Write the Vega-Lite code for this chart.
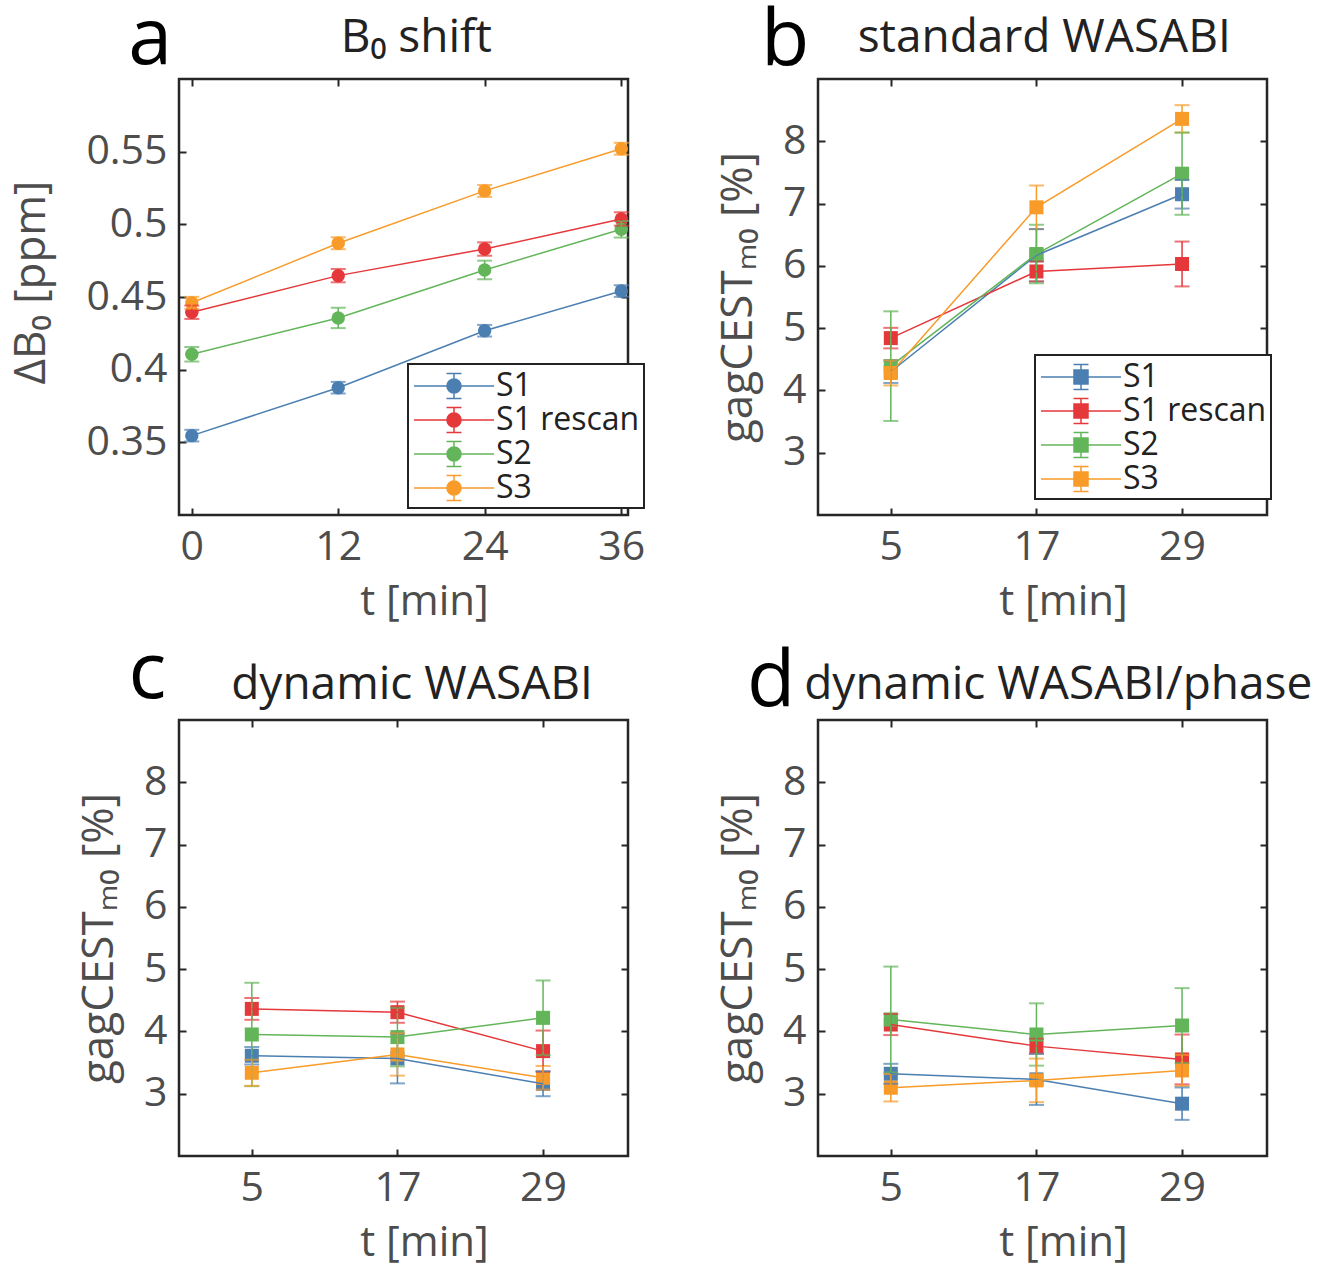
{
  "$schema": "https://vega.github.io/schema/vega-lite/v6.json",
  "background": "white",
  "padding": {"left": 8, "top": 0, "right": 5, "bottom": 5},
  "config": {
    "font": "Open Sans",
    "view": {"stroke": "#262626", "strokeWidth": 2.5},
    "axis": {
      "labelFont": "Open Sans", "labelFontSize": 41, "labelColor": "#4d4d4d",
      "titleFont": "Open Sans", "titleColor": "#4d4d4d", "titleFontWeight": "normal",
      "domain": false, "grid": false, "tickColor": "#262626", "tickWidth": 2, "tickSize": -7, "labelPadding": 19
    },
    "axisX": {"titleFontSize": 42, "titlePadding": 14, "titleX": 245},
    "axisY": {"titleFontSize": 44, "titlePadding": 22},
    "legend": {"strokeWidth": 2},
    "text": {"font": "Open Sans"}
  },
  "datasets": {
    "a": [
      {"s": "S1", "t": 0, "v": 0.3546, "e": 0.004},
      {"s": "S1", "t": 12, "v": 0.3876, "e": 0.004},
      {"s": "S1", "t": 24, "v": 0.4268, "e": 0.004},
      {"s": "S1", "t": 35.2, "v": 0.4541, "e": 0.004},
      {"s": "S1 rescan", "t": 0, "v": 0.4395, "e": 0.0046},
      {"s": "S1 rescan", "t": 12, "v": 0.4647, "e": 0.0046},
      {"s": "S1 rescan", "t": 24, "v": 0.483, "e": 0.0046},
      {"s": "S1 rescan", "t": 35.2, "v": 0.5037, "e": 0.0046},
      {"s": "S2", "t": 0, "v": 0.4106, "e": 0.005},
      {"s": "S2", "t": 12, "v": 0.4356, "e": 0.007},
      {"s": "S2", "t": 24, "v": 0.4686, "e": 0.0064},
      {"s": "S2", "t": 35.2, "v": 0.4966, "e": 0.0057},
      {"s": "S3", "t": 0, "v": 0.446, "e": 0.0041},
      {"s": "S3", "t": 12, "v": 0.487, "e": 0.0041},
      {"s": "S3", "t": 24, "v": 0.523, "e": 0.0041},
      {"s": "S3", "t": 35.2, "v": 0.552, "e": 0.0041}
    ],
    "b": [
      {"s": "S1", "t": 5, "v": 4.30, "e": 0.18},
      {"s": "S1", "t": 17, "v": 6.17, "e": 0.42},
      {"s": "S1", "t": 29, "v": 7.15, "e": 0.23},
      {"s": "S1 rescan", "t": 5, "v": 4.84, "e": 0.165},
      {"s": "S1 rescan", "t": 17, "v": 5.91, "e": 0.16},
      {"s": "S1 rescan", "t": 29, "v": 6.03, "e": 0.36},
      {"s": "S2", "t": 5, "v": 4.39, "e": 0.88},
      {"s": "S2", "t": 17, "v": 6.19, "e": 0.47},
      {"s": "S2", "t": 29, "v": 7.48, "e": 0.66},
      {"s": "S3", "t": 5, "v": 4.28, "e": 0.2},
      {"s": "S3", "t": 17, "v": 6.94, "e": 0.35},
      {"s": "S3", "t": 29, "v": 8.36, "e": 0.22}
    ],
    "c": [
      {"s": "S1", "t": 5, "v": 3.61, "e": 0.14},
      {"s": "S1", "t": 17, "v": 3.566, "e": 0.4},
      {"s": "S1", "t": 29, "v": 3.16, "e": 0.2},
      {"s": "S1 rescan", "t": 5, "v": 4.362, "e": 0.175},
      {"s": "S1 rescan", "t": 17, "v": 4.309, "e": 0.17},
      {"s": "S1 rescan", "t": 29, "v": 3.684, "e": 0.33},
      {"s": "S2", "t": 5, "v": 3.951, "e": 0.83},
      {"s": "S2", "t": 17, "v": 3.909, "e": 0.47},
      {"s": "S2", "t": 29, "v": 4.218, "e": 0.6},
      {"s": "S3", "t": 5, "v": 3.336, "e": 0.21},
      {"s": "S3", "t": 17, "v": 3.63, "e": 0.34},
      {"s": "S3", "t": 29, "v": 3.256, "e": 0.19}
    ],
    "d": [
      {"s": "S1", "t": 5, "v": 3.32, "e": 0.16},
      {"s": "S1", "t": 17, "v": 3.23, "e": 0.41},
      {"s": "S1", "t": 29, "v": 2.84, "e": 0.26},
      {"s": "S1 rescan", "t": 5, "v": 4.111, "e": 0.17},
      {"s": "S1 rescan", "t": 17, "v": 3.764, "e": 0.12},
      {"s": "S1 rescan", "t": 29, "v": 3.55, "e": 0.4},
      {"s": "S2", "t": 5, "v": 4.191, "e": 0.85},
      {"s": "S2", "t": 17, "v": 3.951, "e": 0.5},
      {"s": "S2", "t": 29, "v": 4.095, "e": 0.6},
      {"s": "S3", "t": 5, "v": 3.096, "e": 0.22},
      {"s": "S3", "t": 17, "v": 3.214, "e": 0.35},
      {"s": "S3", "t": 29, "v": 3.374, "e": 0.25}
    ]
  },
  "concat": [
    {
      "width": 449, "height": 436,
      "data": {"name": "a"},
      "layer": [
        {
          "mark": {"type": "point", "filled": true, "shape": "circle", "size": 180, "opacity": 1},
          "encoding": {
            "x": {"field": "t", "type": "quantitative", "scale": {"domain": [-1.05, 35.75], "nice": false, "zero": false},
                  "axis": {"orient": "bottom", "values": [0, 12, 24, 35.2], "labelExpr": "datum.value > 30 ? '36' : datum.label", "title": "t [min]"}},
            "y": {"field": "v", "type": "quantitative", "scale": {"domain": [0.3, 0.6], "nice": false, "zero": false},
                  "axis": {"orient": "left", "values": [0.35, 0.4, 0.45, 0.5, 0.55], "format": "~g", "title": "ΔB₀ [ppm]", "titlePadding": 32, "titleY": 203}},
            "color": {"field": "s", "type": "nominal",
                      "scale": {"domain": ["S1", "S1 rescan", "S2", "S3"], "range": ["#4b7fb1", "#e5383b", "#63b55a", "#f89b29"]},
                      "legend": {"orient": "none", "legendX": 229, "legendY": 285, "title": null,
                                 "symbolType": "M-2.353,0H-0.412M0.412,0H2.353M0,-0.735V-0.412M0,0.412V0.735M-0.44,-0.735H0.44M-0.44,0.735H0.44M0.412,0A0.412,0.412,0,1,1,-0.412,0A0.412,0.412,0,1,1,0.412,0Z",
                                 "symbolSize": 1156, "symbolStrokeWidth": 1.5, "symbolOffset": 24, "labelOffset": 24,
                                 "labelFont": "Open Sans", "labelFontSize": 32, "labelColor": "#222222", "labelLimit": 400,
                                 "strokeColor": "#222222", "fillColor": "white", "padding": 4, "rowPadding": 0}}
          }
        },
        {
          "mark": {"type": "errorbar", "ticks": {"size": 15}, "thickness": 2, "rule": {"strokeWidth": 1.5}},
          "encoding": {
            "x": {"field": "t", "type": "quantitative", "axis": null},
            "y": {"field": "v", "type": "quantitative", "axis": null},
            "yError": {"field": "e"},
            "color": {"field": "s", "type": "nominal"}
          }
        },
        {
          "mark": {"type": "line", "strokeWidth": 1.5},
          "encoding": {
            "x": {"field": "t", "type": "quantitative", "axis": null},
            "y": {"field": "v", "type": "quantitative", "axis": null},
            "color": {"field": "s", "type": "nominal"}
          }
        },
        {
          "mark": {"type": "point", "opacity": 0},
          "encoding": {
            "x": {"field": "t", "type": "quantitative", "axis": {"orient": "top", "values": [0, 12, 24, 35.2], "labels": false, "title": null}},
            "y": {"field": "v", "type": "quantitative", "axis": {"orient": "right", "values": [0.35, 0.4, 0.45, 0.5, 0.55], "labels": false, "title": null}}
          }
        },
        {
          "data": {"values": [{"label": "a"}]},
          "mark": {"type": "text", "fontSize": 79, "color": "black", "align": "center", "baseline": "alphabetic"},
          "encoding": {
            "text": {"field": "label"},
            "x": {"datum": -3.4, "type": "quantitative", "axis": null},
            "y": {"datum": 0.61, "type": "quantitative", "axis": null}
          }
        },
        {
          "data": {"values": [{"label": "B₀ shift"}]},
          "mark": {"type": "text", "fontSize": 46, "color": "#222222", "align": "center", "baseline": "alphabetic"},
          "encoding": {
            "text": {"field": "label"},
            "x": {"datum": 18.4, "type": "quantitative", "axis": null},
            "y": {"datum": 0.6186, "type": "quantitative", "axis": null}
          }
        }
      ],
      "resolve": {"axis": {"x": "independent", "y": "independent"}}
    },
    {
      "width": 449, "height": 436,
      "data": {"name": "b"},
      "layer": [
        {
          "mark": {"type": "point", "filled": true, "shape": "square", "size": 196, "opacity": 1},
          "encoding": {
            "x": {"field": "t", "type": "quantitative", "scale": {"domain": [-1, 36], "nice": false, "zero": false},
                  "axis": {"orient": "bottom", "values": [5, 17, 29], "title": "t [min]"}},
            "y": {"field": "v", "type": "quantitative", "scale": {"domain": [2, 9], "nice": false, "zero": false},
                  "axis": {"orient": "left", "values": [3, 4, 5, 6, 7, 8], "title": "gagCESTₘ₀ [%]"}},
            "color": {"field": "s", "type": "nominal",
                      "scale": {"domain": ["S1", "S1 rescan", "S2", "S3"], "range": ["#4b7fb1", "#e5383b", "#63b55a", "#f89b29"]},
                      "legend": {"orient": "none", "legendX": 217, "legendY": 276, "title": null,
                                 "symbolType": "M-2.353,0H-0.412M0.412,0H2.353M0,-0.735V-0.412M0,0.412V0.735M-0.44,-0.735H0.44M-0.44,0.735H0.44M-0.412,-0.412H0.412V0.412H-0.412Z",
                                 "symbolSize": 1156, "symbolStrokeWidth": 1.5, "symbolOffset": 24, "labelOffset": 24,
                                 "labelFont": "Open Sans", "labelFontSize": 32, "labelColor": "#222222", "labelLimit": 400,
                                 "strokeColor": "#222222", "fillColor": "white", "padding": 4, "rowPadding": 0}}
          }
        },
        {
          "mark": {"type": "errorbar", "ticks": {"size": 15}, "thickness": 2, "rule": {"strokeWidth": 1.5}},
          "encoding": {
            "x": {"field": "t", "type": "quantitative", "axis": null},
            "y": {"field": "v", "type": "quantitative", "axis": null},
            "yError": {"field": "e"},
            "color": {"field": "s", "type": "nominal"}
          }
        },
        {
          "mark": {"type": "line", "strokeWidth": 1.5},
          "encoding": {
            "x": {"field": "t", "type": "quantitative", "axis": null},
            "y": {"field": "v", "type": "quantitative", "axis": null},
            "color": {"field": "s", "type": "nominal"}
          }
        },
        {
          "mark": {"type": "point", "opacity": 0},
          "encoding": {
            "x": {"field": "t", "type": "quantitative", "axis": {"orient": "top", "values": [5, 17, 29], "labels": false, "title": null}},
            "y": {"field": "v", "type": "quantitative", "axis": {"orient": "right", "values": [3, 4, 5, 6, 7, 8], "labels": false, "title": null}}
          }
        },
        {
          "data": {"values": [{"label": "b"}]},
          "mark": {"type": "text", "fontSize": 79, "color": "black", "align": "center", "baseline": "alphabetic"},
          "encoding": {
            "text": {"field": "label"},
            "x": {"datum": -3.7, "type": "quantitative", "axis": null},
            "y": {"datum": 9.22, "type": "quantitative", "axis": null}
          }
        },
        {
          "data": {"values": [{"label": "standard WASABI"}]},
          "mark": {"type": "text", "fontSize": 46, "color": "#222222", "align": "center", "baseline": "alphabetic"},
          "encoding": {
            "text": {"field": "label"},
            "x": {"datum": 17.64, "type": "quantitative", "axis": null},
            "y": {"datum": 9.43, "type": "quantitative", "axis": null}
          }
        }
      ],
      "resolve": {"axis": {"x": "independent", "y": "independent"}}
    },
    {
      "width": 449, "height": 436,
      "data": {"name": "c"},
      "layer": [
        {
          "mark": {"type": "point", "filled": true, "shape": "square", "size": 196, "opacity": 1},
          "encoding": {
            "x": {"field": "t", "type": "quantitative", "scale": {"domain": [-1, 36], "nice": false, "zero": false},
                  "axis": {"orient": "bottom", "values": [5, 17, 29], "title": "t [min]"}},
            "y": {"field": "v", "type": "quantitative", "scale": {"domain": [2, 9], "nice": false, "zero": false},
                  "axis": {"orient": "left", "values": [3, 4, 5, 6, 7, 8], "title": "gagCESTₘ₀ [%]"}},
            "color": {"field": "s", "type": "nominal",
                      "scale": {"domain": ["S1", "S1 rescan", "S2", "S3"], "range": ["#4b7fb1", "#e5383b", "#63b55a", "#f89b29"]},
                      "legend": null}
          }
        },
        {
          "mark": {"type": "errorbar", "ticks": {"size": 15}, "thickness": 2, "rule": {"strokeWidth": 1.5}},
          "encoding": {
            "x": {"field": "t", "type": "quantitative", "axis": null},
            "y": {"field": "v", "type": "quantitative", "axis": null},
            "yError": {"field": "e"},
            "color": {"field": "s", "type": "nominal", "legend": null}
          }
        },
        {
          "mark": {"type": "line", "strokeWidth": 1.5},
          "encoding": {
            "x": {"field": "t", "type": "quantitative", "axis": null},
            "y": {"field": "v", "type": "quantitative", "axis": null},
            "color": {"field": "s", "type": "nominal", "legend": null}
          }
        },
        {
          "mark": {"type": "point", "opacity": 0},
          "encoding": {
            "x": {"field": "t", "type": "quantitative", "axis": {"orient": "top", "values": [5, 17, 29], "labels": false, "title": null}},
            "y": {"field": "v", "type": "quantitative", "axis": {"orient": "right", "values": [3, 4, 5, 6, 7, 8], "labels": false, "title": null}}
          }
        },
        {
          "data": {"values": [{"label": "c"}]},
          "mark": {"type": "text", "fontSize": 79, "color": "black", "align": "center", "baseline": "alphabetic"},
          "encoding": {
            "text": {"field": "label"},
            "x": {"datum": -3.6, "type": "quantitative", "axis": null},
            "y": {"datum": 9.35, "type": "quantitative", "axis": null}
          }
        },
        {
          "data": {"values": [{"label": "dynamic WASABI"}]},
          "mark": {"type": "text", "fontSize": 46, "color": "#222222", "align": "center", "baseline": "alphabetic"},
          "encoding": {
            "text": {"field": "label"},
            "x": {"datum": 18.2, "type": "quantitative", "axis": null},
            "y": {"datum": 9.34, "type": "quantitative", "axis": null}
          }
        }
      ],
      "resolve": {"axis": {"x": "independent", "y": "independent"}}
    },
    {
      "width": 449, "height": 436,
      "data": {"name": "d"},
      "layer": [
        {
          "mark": {"type": "point", "filled": true, "shape": "square", "size": 196, "opacity": 1},
          "encoding": {
            "x": {"field": "t", "type": "quantitative", "scale": {"domain": [-1, 36], "nice": false, "zero": false},
                  "axis": {"orient": "bottom", "values": [5, 17, 29], "title": "t [min]"}},
            "y": {"field": "v", "type": "quantitative", "scale": {"domain": [2, 9], "nice": false, "zero": false},
                  "axis": {"orient": "left", "values": [3, 4, 5, 6, 7, 8], "title": "gagCESTₘ₀ [%]"}},
            "color": {"field": "s", "type": "nominal",
                      "scale": {"domain": ["S1", "S1 rescan", "S2", "S3"], "range": ["#4b7fb1", "#e5383b", "#63b55a", "#f89b29"]},
                      "legend": null}
          }
        },
        {
          "mark": {"type": "errorbar", "ticks": {"size": 15}, "thickness": 2, "rule": {"strokeWidth": 1.5}},
          "encoding": {
            "x": {"field": "t", "type": "quantitative", "axis": null},
            "y": {"field": "v", "type": "quantitative", "axis": null},
            "yError": {"field": "e"},
            "color": {"field": "s", "type": "nominal", "legend": null}
          }
        },
        {
          "mark": {"type": "line", "strokeWidth": 1.5},
          "encoding": {
            "x": {"field": "t", "type": "quantitative", "axis": null},
            "y": {"field": "v", "type": "quantitative", "axis": null},
            "color": {"field": "s", "type": "nominal", "legend": null}
          }
        },
        {
          "mark": {"type": "point", "opacity": 0},
          "encoding": {
            "x": {"field": "t", "type": "quantitative", "axis": {"orient": "top", "values": [5, 17, 29], "labels": false, "title": null}},
            "y": {"field": "v", "type": "quantitative", "axis": {"orient": "right", "values": [3, 4, 5, 6, 7, 8], "labels": false, "title": null}}
          }
        },
        {
          "data": {"values": [{"label": "d"}]},
          "mark": {"type": "text", "fontSize": 79, "color": "black", "align": "center", "baseline": "alphabetic"},
          "encoding": {
            "text": {"field": "label"},
            "x": {"datum": -4.85, "type": "quantitative", "axis": null},
            "y": {"datum": 9.22, "type": "quantitative", "axis": null}
          }
        },
        {
          "data": {"values": [{"label": "dynamic WASABI/phase"}]},
          "mark": {"type": "text", "fontSize": 46, "color": "#222222", "align": "center", "baseline": "alphabetic"},
          "encoding": {
            "text": {"field": "label"},
            "x": {"datum": 18.8, "type": "quantitative", "axis": null},
            "y": {"datum": 9.34, "type": "quantitative", "axis": null}
          }
        }
      ],
      "resolve": {"axis": {"x": "independent", "y": "independent"}}
    }
  ],
  "columns": 2,
  "bounds": "flush",
  "spacing": {"row": 205, "column": 190},
  "resolve": {"scale": {"color": "independent"}, "legend": {"color": "independent"}}
}
